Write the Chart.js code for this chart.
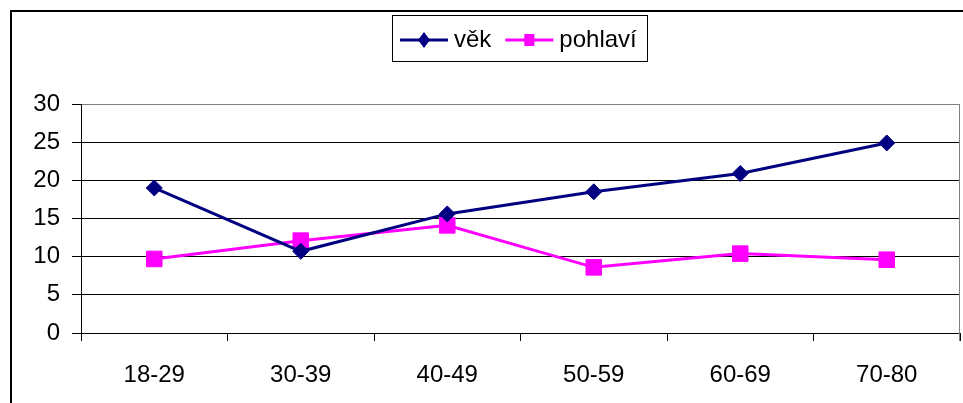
<!DOCTYPE html>
<html>
<head>
<meta charset="utf-8">
<script src="https://cdn.jsdelivr.net/npm/chart.js@4/dist/chart.umd.min.js"></script>
<style>
  html, body { margin: 0; padding: 0; background: #fff; overflow: hidden; }
  #wrap { position: relative; width: 963px; height: 403px; }
  canvas { display: block; }
</style>
</head>
<body>
<div id="wrap"><canvas id="lineChart"></canvas></div>
<script>
// age groups on the x axis
var categories = ['18-29', '30-39', '40-49', '50-59', '60-69', '70-80'];
// series
var vekValues = [19.0, 10.7, 15.6, 18.5, 20.9, 24.9];
var pohlaviValues = [9.7, 12.1, 14.1, 8.6, 10.4, 9.6];
// y axis range
var yMin = 0;
var yMax = 30;
var yStep = 5;

var navy = '#000080';
var magenta = '#FF00FF';

Chart.defaults.font.family = '"Liberation Sans", Arial, sans-serif';
Chart.defaults.font.size = 24;
Chart.defaults.color = '#000';

// frame round the whole chart (only top and left edge are in view)
var outerFrame = {
    id: 'outerFrame',
    beforeDraw: function (chart) {
        var c = chart.ctx;
        c.save();
        c.strokeStyle = '#000';
        c.lineWidth = 2;
        c.beginPath();
        c.moveTo(11, chart.height);
        c.lineTo(11, 11);
        c.lineTo(chart.width, 11);
        c.stroke();
        c.restore();
    },
    afterDatasetsDraw: function (chart) {
        // grey right edge of the plot area
        var a = chart.chartArea;
        var c = chart.ctx;
        c.save();
        c.strokeStyle = '#808080';
        c.lineWidth = 1;
        c.beginPath();
        c.moveTo(Math.round(a.right) - 0.5, a.top);
        c.lineTo(Math.round(a.right) - 0.5, a.bottom + 8);
        c.stroke();
        c.restore();
    }
};

// boxed legend: line with marker, then the label
var boxLegend = {
    id: 'boxLegend',
    afterDraw: function (chart) {
        var c = chart.ctx;
        c.save();
        c.strokeStyle = '#000';
        c.lineWidth = 1;
        c.strokeRect(392.5, 15.5, 255, 46);
        c.font = '24px "Liberation Sans", Arial, sans-serif';
        c.textBaseline = 'alphabetic';
        c.fillStyle = '#000';
        var x = 400, y = 40;
        chart.data.datasets.forEach(function (ds) {
            c.strokeStyle = ds.borderColor;
            c.lineWidth = 3;
            c.beginPath();
            c.moveTo(x, y);
            c.lineTo(x + 48, y);
            c.stroke();
            c.fillStyle = ds.borderColor;
            c.beginPath();
            if (ds.pointStyle === 'rectRot') {
                c.moveTo(x + 24, y - 8);
                c.lineTo(x + 30, y);
                c.lineTo(x + 24, y + 8);
                c.lineTo(x + 18, y);
                c.closePath();
            } else {
                c.rect(x + 19, y - 6, 10, 12);
            }
            c.fill();
            c.fillStyle = '#000';
            c.fillText(ds.label, x + 54, 47);
            x += 54 + c.measureText(ds.label).width + 14;
        });
        c.restore();
    }
};

var ctxl = document.getElementById('lineChart').getContext('2d');
var chartLine = new Chart(ctxl, {
    type: 'line',
    plugins: [outerFrame, boxLegend],
    data: {
        labels: categories,
        datasets: [
            {
                label: 'věk',
                data: vekValues,
                borderColor: navy,
                backgroundColor: navy,
                borderWidth: 3,
                pointStyle: 'rectRot',
                pointRadius: 8,
                pointHoverRadius: 8,
                pointBorderWidth: 1,
                tension: 0
            },
            {
                label: 'pohlaví',
                data: pohlaviValues,
                borderColor: magenta,
                backgroundColor: magenta,
                borderWidth: 3,
                pointStyle: 'rect',
                pointRadius: 11,
                pointHoverRadius: 11,
                pointBorderWidth: 1,
                tension: 0
            }
        ]
    },
    options: {
        responsive: true,
        maintainAspectRatio: false,
        animation: false,
        layout: {
            autoPadding: false, // no extra room for the big markers
            padding: { top: 104, right: 3, bottom: 0, left: 0 }
        },
        plugins: {
            legend: { display: false },
            tooltip: { enabled: false }
        },
        scales: {
            x: {
                offset: true,
                afterFit: function (s) {
                    s.height = 70;
                    s.paddingLeft = 0;
                    s.paddingRight = 0;
                },
                grid: {
                    offset: true,
                    drawOnChartArea: false,
                    tickLength: 8,
                    color: '#000',
                    tickColor: '#000'
                },
                border: { color: '#000', width: 1 },
                ticks: { padding: 20, maxRotation: 0 }
            },
            y: {
                min: yMin,
                max: yMax,
                afterFit: function (s) { s.width = 81; },
                ticks: { stepSize: yStep, padding: 12 },
                grid: {
                    tickLength: 9,
                    tickColor: '#000',
                    color: function (ctx) {
                        return ctx.tick && ctx.tick.value === yMax ? '#808080' : '#000';
                    }
                },
                border: { color: '#000', width: 1 }
            }
        }
    }
});
</script>
</body>
</html>
